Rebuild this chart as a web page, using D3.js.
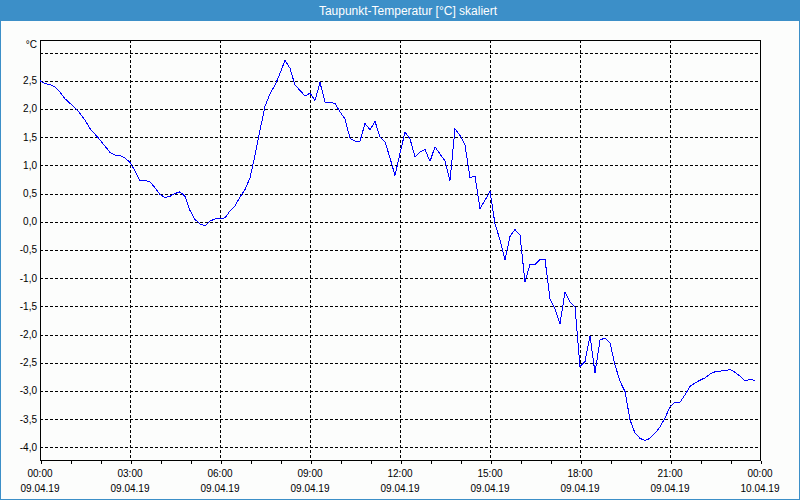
<!DOCTYPE html>
<html>
<head>
<meta charset="utf-8">
<script src="https://cdn.jsdelivr.net/npm/d3@7"></script>
<style>
  html, body { margin: 0; padding: 0; background: #fcfdfc; }
  svg { display: block; font-family: "Liberation Sans", Arial, sans-serif; }
</style>
</head>
<body>
<script>
// Taupunkt, 10-Minuten-Werte ab 09.04.19 00:00
var start = new Date(2019, 3, 9, 0, 0);
var stepMin = 10;
var dewpoint = [
  2.50, 2.45, 2.43, 2.39, 2.30, 2.18, 2.10, 2.02, 1.92, 1.80,
  1.65, 1.55, 1.45, 1.34, 1.23, 1.18, 1.17, 1.13, 1.05, 0.90,
  0.73, 0.73, 0.71, 0.60, 0.48, 0.43, 0.45, 0.50, 0.53, 0.45,
  0.20, 0.04, -0.04, -0.07, 0.01, 0.05, 0.05, 0.07, 0.19, 0.28,
  0.44, 0.57, 0.78, 1.18, 1.62, 2.05, 2.27, 2.42, 2.63, 2.86,
  2.72, 2.42, 2.33, 2.23, 2.28, 2.15, 2.47, 2.12, 2.11, 2.10,
  1.95, 1.82, 1.48, 1.43, 1.43, 1.74, 1.63, 1.78, 1.50, 1.42,
  1.13, 0.82, 1.21, 1.59, 1.47, 1.15, 1.24, 1.28, 1.07, 1.33,
  1.20, 1.08, 0.73, 1.65, 1.53, 1.36, 0.78, 0.81, 0.23, 0.38,
  0.54, -0.04, -0.32, -0.67, -0.26, -0.14, -0.24, -1.07, -0.75, -0.76,
  -0.67, -0.67, -1.37, -1.54, -1.81, -1.25, -1.43, -1.51, -2.57, -2.48,
  -2.02, -2.68, -2.10, -2.06, -2.15, -2.54, -2.83, -3.01, -3.51, -3.75,
  -3.84, -3.88, -3.84, -3.75, -3.64, -3.48, -3.28, -3.20, -3.20, -3.07,
  -2.92, -2.86, -2.81, -2.77, -2.70, -2.66, -2.65, -2.64, -2.62, -2.67,
  -2.74, -2.82, -2.80, -2.81
];

// Achsenbeschriftung
var yTicks = [-4.0, -3.5, -3.0, -2.5, -2.0, -1.5, -1.0, -0.5, 0.0, 0.5, 1.0, 1.5, 2.0, 2.5, 3.0];
var yLabelTicks = [-4.0, -3.5, -3.0, -2.5, -2.0, -1.5, -1.0, -0.5, 0.0, 0.5, 1.0, 1.5, 2.0, 2.5];
var xTickTimes = ['00:00', '03:00', '06:00', '09:00', '12:00', '15:00', '18:00', '21:00', '00:00'];
var xTickDates = ['09.04.19', '09.04.19', '09.04.19', '09.04.19', '09.04.19', '09.04.19', '09.04.19', '09.04.19', '10.04.19'];
var title = 'Taupunkt-Temperatur [°C] skaliert';
var unit = '°C';

var W = 800, H = 500;
var pLeft = 40, pRight = 760, pTop = 40, pBottom = 460;

var de = d3.formatLocale({ decimal: ',', thousands: '.', grouping: [3], currency: ['', ' €'], minus: '-' });
var fmt = de.format('.1f');

var end = d3.timeHour.offset(start, 24);
var x = d3.scaleTime().domain([start, end]).range([pLeft, pRight]);
var y = d3.scaleLinear().domain([-4.225, 3.222]).range([pBottom, pTop]);

var points = dewpoint.map(function(v, i) {
  return { t: d3.timeMinute.offset(start, i * stepMin), v: v };
});

var svg = d3.select('body').append('svg')
  .attr('width', W)
  .attr('height', H);

// Rahmen + Titelleiste
svg.append('rect')
  .attr('x', 0.5).attr('y', 0.5).attr('width', W - 1).attr('height', H - 1)
  .attr('fill', '#fcfdfc').attr('stroke', '#3c8fc8');
svg.append('rect')
  .attr('x', 0).attr('y', 0).attr('width', W).attr('height', 21)
  .attr('fill', '#3c8fc8');
svg.append('text')
  .attr('x', W / 2 + 8).attr('y', 14.5)
  .attr('text-anchor', 'middle')
  .attr('fill', '#ffffff')
  .style('font-size', '12px')
  .text(title);

var grid = svg.append('g')
  .attr('stroke', '#000')
  .attr('stroke-dasharray', '3,2')
  .attr('shape-rendering', 'crispEdges');

grid.selectAll('line.h')
  .data(yTicks)
  .enter()
    .append('line')
      .attr('class', 'h')
      .attr('x1', pLeft).attr('x2', pRight)
      .attr('y1', function(d){ return Math.round(y(d)) + 0.5; })
      .attr('y2', function(d){ return Math.round(y(d)) + 0.5; });

var majorTicks = x.ticks(d3.timeHour.every(3));
grid.selectAll('line.v')
  .data(majorTicks.slice(1, -1))
  .enter()
    .append('line')
      .attr('class', 'v')
      .attr('y1', pTop).attr('y2', pBottom)
      .attr('x1', function(d){ return Math.round(x(d)) + 0.5; })
      .attr('x2', function(d){ return Math.round(x(d)) + 0.5; });

// Plotrahmen
svg.append('rect')
  .attr('x', pLeft + 0.5).attr('y', pTop + 0.5)
  .attr('width', pRight - pLeft).attr('height', pBottom - pTop)
  .attr('fill', 'none').attr('stroke', '#000')
  .attr('shape-rendering', 'crispEdges');

// x-Achse mit Stundenstrichen
var xAxis = d3.axisBottom(x)
  .ticks(d3.timeHour.every(1))
  .tickSize(3)
  .tickFormat('');
var gx = svg.append('g')
  .attr('transform', 'translate(0.5,' + (pBottom + 0.5) + ')')
  .attr('shape-rendering', 'crispEdges')
  .call(xAxis);
gx.select('.domain').remove();
gx.selectAll('line').attr('stroke', '#000');

var xl = svg.append('g')
  .style('font-size', '10px')
  .attr('fill', '#000')
  .attr('text-anchor', 'middle');
xl.selectAll('text.time')
  .data(majorTicks)
  .enter()
    .append('text')
      .attr('class', 'time')
      .attr('x', function(d){ return x(d); })
      .attr('y', 477)
      .text(function(d, i){ return xTickTimes[i]; });
xl.selectAll('text.date')
  .data(majorTicks)
  .enter()
    .append('text')
      .attr('class', 'date')
      .attr('x', function(d){ return x(d); })
      .attr('y', 492)
      .text(function(d, i){ return xTickDates[i]; });

// y-Beschriftung
var yl = svg.append('g')
  .style('font-size', '10px')
  .attr('fill', '#000')
  .attr('text-anchor', 'end');
yl.selectAll('text')
  .data(yLabelTicks)
  .enter()
    .append('text')
      .attr('x', 37)
      .attr('y', function(d){ return y(d) + 3.5; })
      .text(function(d){ return fmt(d); });
yl.append('text')
  .attr('x', 37)
  .attr('y', 48)
  .text(unit);

// Kurve
var line = d3.line()
  .x(function(d){ return x(d.t); })
  .y(function(d){ return y(d.v); });

svg.append('path')
  .datum(points)
  .attr('d', line)
  .attr('fill', 'none')
  .attr('stroke', '#0000ff')
  .attr('stroke-width', 1)
  .attr('shape-rendering', 'crispEdges');
</script>
</body>
</html>
